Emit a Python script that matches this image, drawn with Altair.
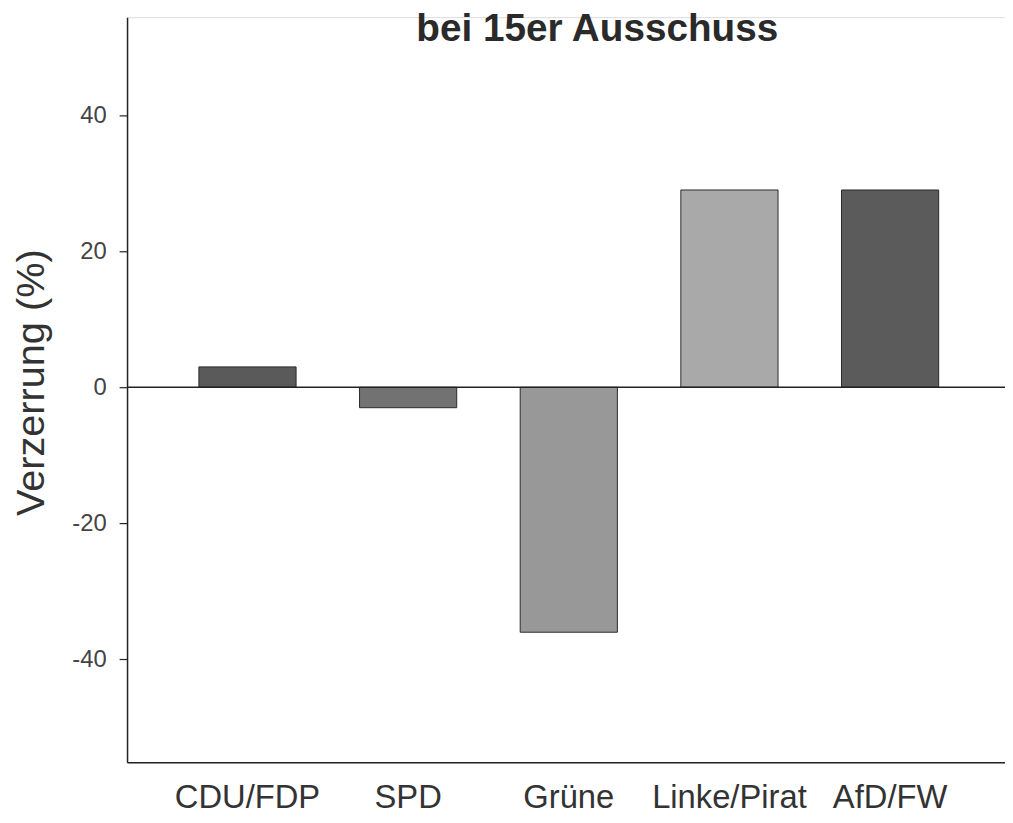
import altair as alt
import pandas as pd

parties = ["CDU/FDP", "SPD", "Grüne", "Linke/Pirat", "AfD/FW"]
values = [3, -3, -36, 29, 29]
colors = ["#5a5a5a", "#727272", "#989898", "#a9a9a9", "#5b5b5b"]
y_ticks = [-40, -20, 0, 20, 40]
title_text = "bei 15er Ausschuss"

df = pd.DataFrame({"party": parties, "value": values})

FONT = "Liberation Sans"

bars = alt.Chart(df).mark_bar(stroke="#2a2a2a", strokeWidth=1).encode(
    x=alt.X(
        "party:N",
        sort=parties,
        scale=alt.Scale(paddingInner=0.395, paddingOuter=0.43, align=0.52),
        axis=alt.Axis(
            title=None,
            labelAngle=0,
            labelFont=FONT,
            labelFontSize=33,
            labelColor="#333333",
            labelBaseline="alphabetic",
            labelPadding=46,
            ticks=False,
            tickSize=0,
            domainColor="#222222",
            domainWidth=1.5,
            grid=False,
        ),
    ),
    y=alt.Y(
        "value:Q",
        scale=alt.Scale(domain=[-55.1, 54.4], nice=False, zero=False),
        axis=alt.Axis(
            title="Verzerrung (%)",
            values=y_ticks,
            labelExpr="'' + datum.value",
            titleFont=FONT,
            titleFontSize=40,
            titleFontWeight="normal",
            titleColor="#333333",
            titleAngle=-90,
            titleAlign="center",
            titleBaseline="middle",
            titleX=-96,
            titleY=368,
            labelFont=FONT,
            labelFontSize=24,
            labelColor="#444444",
            labelPadding=13,
            tickSize=8,
            tickColor="#222222",
            tickWidth=1.2,
            domainColor="#222222",
            domainWidth=1.5,
            grid=False,
        ),
    ),
    color=alt.Color(
        "party:N",
        scale=alt.Scale(domain=parties, range=colors),
        legend=None,
    ),
)

zero = alt.Chart(pd.DataFrame({"z": [0]})).mark_rule(color="#222222", strokeWidth=1.5).encode(
    y="z:Q"
)

title = alt.Chart(pd.DataFrame({"t": [title_text]})).mark_text(
    font=FONT,
    fontSize=39,
    fontWeight="bold",
    color="#2a2a2a",
    align="center",
    baseline="alphabetic",
    clip=False,
).encode(text="t:N", x=alt.value(474), y=alt.value(24))

chart = (
    alt.layer(bars, zero, title)
    .properties(
        width=885,
        height=751,
        autosize=alt.AutoSizeParams(type="none"),
        padding={"left": 120, "top": 6, "right": 0, "bottom": 50},
    )
    .configure_view(stroke="white", strokeWidth=0, strokeOpacity=0)
    .configure_axis(grid=False)
    .configure(background="white")
)

chart.save("out.html", embed_options={"renderer": "svg", "actions": False})
